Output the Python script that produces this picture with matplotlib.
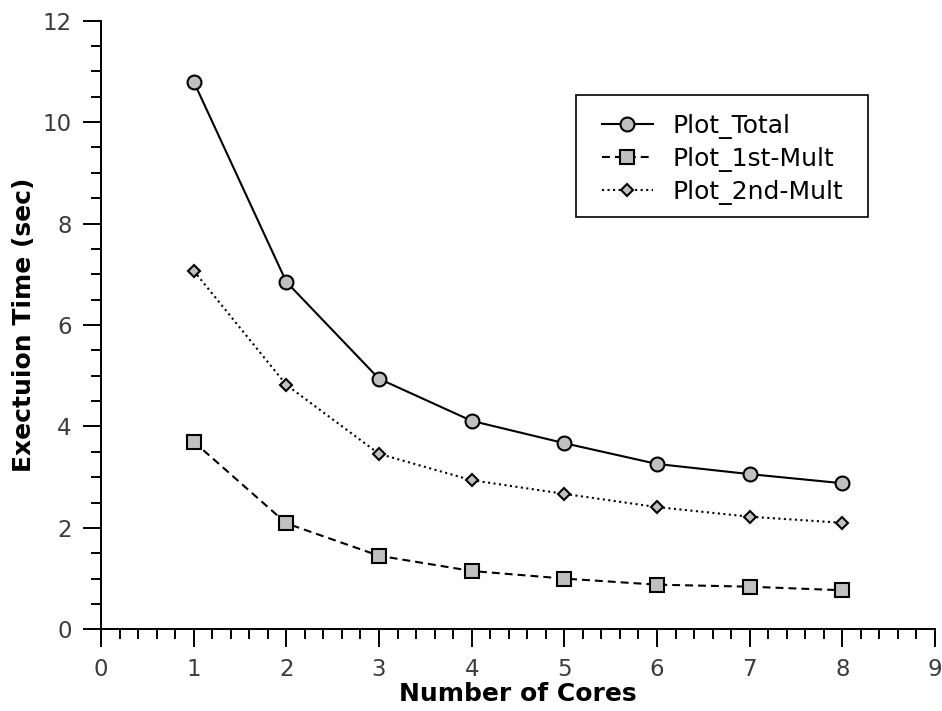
import matplotlib
matplotlib.use("Agg")
import matplotlib.pyplot as plt
from matplotlib.ticker import MultipleLocator
from matplotlib.patches import Rectangle

cores = [1, 2, 3, 4, 5, 6, 7, 8]
total = [10.80, 6.85, 4.94, 4.11, 3.67, 3.26, 3.06, 2.88]
mult1 = [3.70, 2.09, 1.45, 1.15, 1.00, 0.88, 0.84, 0.77]
mult2 = [7.07, 4.82, 3.46, 2.94, 2.67, 2.41, 2.22, 2.10]
labels = ["Plot_Total", "Plot_1st-Mult", "Plot_2nd-Mult"]

plt.rcParams['font.family'] = ['DejaVu Sans']
W, H = 942, 711
fig = plt.figure(figsize=(W/100, H/100), dpi=100)
ax = fig.add_axes([101/W, 1-629.3/H, (935-101)/W, (629.3-20.7)/H])

face = '#c0c0c0'
ax.plot(cores, total, '-', color='black', lw=1.5, marker='o', ms=10,
        mfc=face, mec='black', mew=1.5, label=labels[0])
ax.plot(cores, mult1, '--', color='black', lw=1.5, marker='s', ms=10,
        mfc=face, mec='black', mew=1.5, label=labels[1], dashes=(3.8, 2.4))
ax.plot(cores, mult2, ':', color='black', lw=1.5, marker='D', ms=6,
        mfc=face, mec='black', mew=1.5, label=labels[2])

ax.set_xlim(0, 9)
ax.set_ylim(0, 12)
ax.xaxis.set_major_locator(MultipleLocator(1))
ax.xaxis.set_minor_locator(MultipleLocator(0.2))
ax.yaxis.set_major_locator(MultipleLocator(2))
ax.yaxis.set_minor_locator(MultipleLocator(0.5))
for s in ['top', 'right']:
    ax.spines[s].set_visible(False)
for s in ['left', 'bottom']:
    ax.spines[s].set_linewidth(1.4)
ax.tick_params(which='major', direction='out', length=13, width=1.4,
               labelsize=16.5, labelcolor='#3c3c3c', pad=8)
ax.tick_params(which='minor', direction='out', length=7.5, width=1.4)
ax.tick_params(axis='x', pad=8)

ax.set_xlabel("Number of Cores", fontsize=18, fontweight='bold', labelpad=0.5)
ax.set_ylabel("Exectuion Time (sec)", fontsize=18, fontweight='bold', labelpad=5)

leg = ax.legend(loc='center left', bbox_to_anchor=(601.7/W, 1-159.3/H),
                bbox_transform=fig.transFigure,
                borderaxespad=0, borderpad=0, fontsize=18, frameon=False,
                handlelength=2.05, handletextpad=0.8, labelspacing=0.32)
fig.patches.append(Rectangle((576/W, 1-217/H), (868-576)/W, (217-95)/H,
                             transform=fig.transFigure, fill=False,
                             edgecolor='black', lw=1.2))

fig.savefig("out.png", dpi=100)
